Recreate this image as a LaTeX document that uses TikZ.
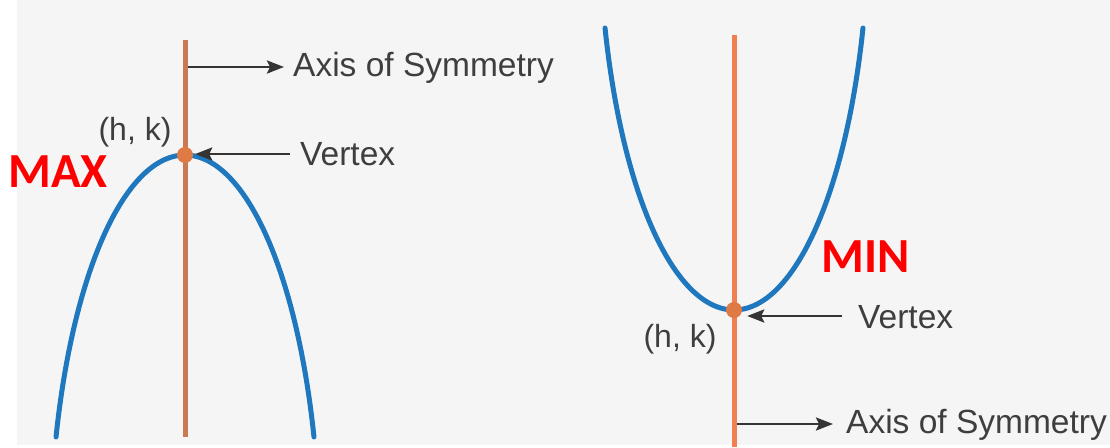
\documentclass[tikz,border=0pt]{standalone}
\usepackage{fontspec}
\setmainfont{Liberation Sans}
\newfontfamily\calfont{Carlito}
\usetikzlibrary{arrows.meta}
\definecolor{bgray}{HTML}{F5F5F5}
\definecolor{curveblue}{HTML}{1F77BE}
\definecolor{axisL}{HTML}{C97A52}
\definecolor{axisR}{HTML}{F0804F}
\definecolor{dotc}{HTML}{E07A45}
\definecolor{txt}{HTML}{3E3E3E}
\tikzset{
  curve/.style={draw=curveblue, line width=5pt, line cap=round},
  axisline/.style={line width=5pt},
  pointer/.style={draw=txt!85!black, line width=2.6pt, -{Stealth[length=17pt,width=13pt,inset=3pt]}},
  lbl/.style={text=txt, font=\fontsize{33.5}{40}\selectfont, inner sep=0pt},
  hk/.style={text=txt, font=\fontsize{32}{38}\selectfont, inner sep=0pt},
  redlbl/.style={text=red, font=\calfont\bfseries\fontsize{49}{55}\selectfont, inner sep=0pt},
  vdot/.style={circle, fill=dotc, minimum size=16pt, inner sep=0pt}
}
\begin{document}
\begin{tikzpicture}[x=1pt,y=-1pt]
\useasboundingbox (0,0) rectangle (1110,447);
\fill[white] (0,0) rectangle (1110,447);
\fill[bgray] (17,0) rectangle (1110,445);

% ---------- left: maximum ----------
\draw[curve] plot[domain=-72.84:72.84, samples=90, variable=\t] ({185+135*sin(\t)},{155+400*(1-cos(\t))});
\draw[axisline, draw=axisL] (185,40) -- (185,437);
\node[vdot] (vL) at (185,155) {};
\node[lbl, anchor=base west] (axL) at (293,76) {Axis of Symmetry};
\node[lbl, anchor=base west] (vtxL) at (300,165) {Vertex};
\node[hk, anchor=base] (hkL) at (135,140) {(h, k)};
\node[redlbl, anchor=base west] (max) at (8,187) {MAX};
\coordinate (aLs) at (188,67);
\coordinate (aLe) at (284,67);
\draw[pointer] (aLs) -- (aLe);
\coordinate (vLs) at (290,154);
\draw[pointer, shorten >=2pt] (vLs) -- (vLs -| vL.east);

% ---------- right: minimum ----------
\draw[curve] plot[domain=-72.84:72.84, samples=90, variable=\t] ({734+135*sin(\t)},{310-400*(1-cos(\t))});
\draw[axisline, draw=axisR] (734,35) -- (734,447);
\node[vdot] (vR) at (734,310) {};
\node[lbl, anchor=base west] (vtxR) at (858,328) {Vertex};
\node[hk, anchor=base] (hkR) at (680,347) {(h, k)};
\node[redlbl, anchor=base west] (min) at (821,272) {MIN};
\node[lbl, anchor=base west] (axR) at (846,433) {Axis of Symmetry};
\coordinate (vRs) at (842,316);
\draw[pointer, shorten >=5pt] (vRs) -- (vRs -| vR.east);
\coordinate (aRs) at (737,424);
\coordinate (aRe) at (833,424);
\draw[pointer] (aRs) -- (aRe);
\end{tikzpicture}
\end{document}
